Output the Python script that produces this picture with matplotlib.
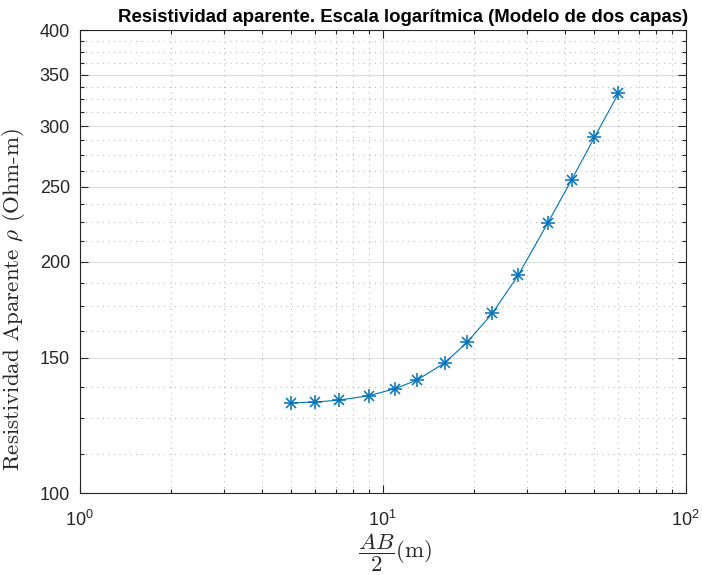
import numpy as np
import matplotlib
matplotlib.use('Agg')
import matplotlib.pyplot as plt
from matplotlib.ticker import FixedLocator, NullFormatter, LogLocator, LogFormatterSciNotation

# datos
ab2 = [5, 6, 7.2, 9, 11, 13, 16, 19, 23, 28, 35, 42, 50, 60]
rho = [131.0, 131.3, 132.1, 133.8, 136.7, 140.3, 147.6, 157.0, 171.3, 191.9, 224.2, 255.3, 290.1, 331.0]
y_ticks = [100, 150, 200, 250, 300, 350, 400]

plt.rcParams['font.family'] = ['Liberation Sans', 'DejaVu Sans']
plt.rcParams['mathtext.fontset'] = 'cm'

ax_color = '#262626'
line_color = '#0072BD'

fig = plt.figure(figsize=(7.02, 5.75), dpi=100)
ax = fig.add_axes([0.1135, 0.1426, 0.8633, 0.8052])

# asterisco estilo MATLAB: '+' y 'x' superpuestos
ax.plot(ab2, rho, color=line_color, marker='+', markersize=9.5, markeredgewidth=1.1, linewidth=0.8)
ax.plot(ab2, rho, color=line_color, marker='x', markersize=6.7, markeredgewidth=1.1, linestyle='none')

ax.set_xscale('log')
ax.set_yscale('log')
ax.set_xlim(1, 100)
ax.set_ylim(100, 400)

ax.xaxis.set_major_locator(LogLocator(base=10))
ax.xaxis.set_major_formatter(LogFormatterSciNotation())
ax.xaxis.set_minor_locator(LogLocator(base=10, subs=np.arange(2, 10)))
ax.xaxis.set_minor_formatter(NullFormatter())

ax.yaxis.set_major_locator(FixedLocator(y_ticks))
ax.set_yticklabels([str(t) for t in y_ticks])
minor_y = [v for v in np.arange(100, 400.1, 12.5) if v not in y_ticks]
ax.yaxis.set_minor_locator(FixedLocator(minor_y))
ax.yaxis.set_minor_formatter(NullFormatter())

ax.grid(which='major', color=ax_color, alpha=0.15, linestyle='-', linewidth=0.8)
ax.grid(which='minor', color=ax_color, alpha=0.3, linestyle=(0, (1, 4)), linewidth=0.8)
ax.set_axisbelow(True)

ax.tick_params(which='both', direction='in', top=True, right=True, colors=ax_color, labelsize=13)
ax.tick_params(which='major', length=6, width=0.8)
ax.tick_params(which='minor', length=3, width=0.8)
ax.tick_params(axis='x', which='major', pad=12)
ax.tick_params(axis='y', which='major', pad=7)
for s in ax.spines.values():
    s.set_color(ax_color)
    s.set_linewidth(0.8)

fig.text(403 / 702, 1 - 17 / 575, 'Resistividad aparente. Escala logarítmica (Modelo de dos capas)',
         fontsize=13.4, fontweight='bold', color='black', ha='center', va='center')
ax.set_xlabel(r'$\dfrac{AB}{2}$(m)', fontsize=16.5, family='cmr10', color=ax_color)
ax.xaxis.set_label_coords(0.521, -0.084)
ax.set_ylabel(r'Resistividad Aparente $\rho$ (Ohm-m)', fontsize=16.5, family='cmr10', color=ax_color)
ax.yaxis.set_label_coords(-0.087, 0.417)

fig.savefig('out.png', dpi=100)
